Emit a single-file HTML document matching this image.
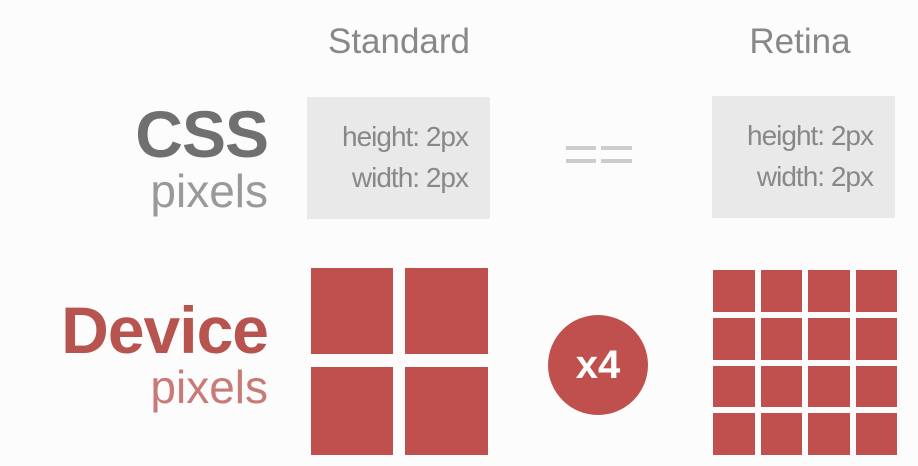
<!DOCTYPE html>
<html><head><style>
body{margin:0;width:918px;height:466px;background:#fcfcfc;position:relative;overflow:hidden;font-family:"Liberation Sans",sans-serif}
.a{position:absolute}
.h{font-size:35px;color:#888;top:22px;width:200px;text-align:center}
.box{background:#e9e9e9;color:#888;font-size:28px;letter-spacing:-1px;text-align:right;line-height:41px;box-sizing:border-box;padding:19px 22px 0 0}
.r{background:#c0504d}
.lab{right:650px;text-align:right}
</style></head><body>
<div class="a h" style="left:299px">Standard</div>
<div class="a h" style="left:700px">Retina</div>
<div class="a lab" style="top:96px;font-size:66px;font-weight:bold;color:#707070;letter-spacing:-1px">CSS</div>
<div class="a lab" style="top:164px;font-size:46px;color:#999">pixels</div>
<div class="a lab" style="top:292px;font-size:66px;font-weight:bold;color:#b85450;letter-spacing:-1px">Device</div>
<div class="a lab" style="top:360px;font-size:46px;color:#c87a77">pixels</div>
<div class="a box" style="left:307px;top:97px;width:183px;height:122px">height: 2px<br>width: 2px</div>
<div class="a box" style="left:712px;top:96px;width:183px;height:122px">height: 2px<br>width: 2px</div>
<div class="a" style="left:566px;top:146px;width:30px;height:4px;background:#ccc"></div>
<div class="a" style="left:566px;top:159px;width:30px;height:4px;background:#ccc"></div>
<div class="a" style="left:601px;top:146px;width:31px;height:4px;background:#ccc"></div>
<div class="a" style="left:601px;top:159px;width:31px;height:4px;background:#ccc"></div>
<div class="a r" style="left:311px;top:268px;width:82px;height:86px"></div>
<div class="a r" style="left:405px;top:268px;width:83px;height:86px"></div>
<div class="a r" style="left:311px;top:367px;width:82px;height:88px"></div>
<div class="a r" style="left:405px;top:367px;width:83px;height:88px"></div>
<div class="a r" style="left:548px;top:315px;width:100px;height:100px;border-radius:50%;color:#fff;font-weight:bold;font-size:40px;text-align:center;line-height:100px">x4</div>
<div class="a" style="left:713px;top:270px;width:184px;height:185px;display:grid;grid-template-columns:repeat(4,1fr);grid-template-rows:repeat(4,1fr);gap:6px">
<div class="r"></div><div class="r"></div><div class="r"></div><div class="r"></div>
<div class="r"></div><div class="r"></div><div class="r"></div><div class="r"></div>
<div class="r"></div><div class="r"></div><div class="r"></div><div class="r"></div>
<div class="r"></div><div class="r"></div><div class="r"></div><div class="r"></div>
</div>
</body></html>
